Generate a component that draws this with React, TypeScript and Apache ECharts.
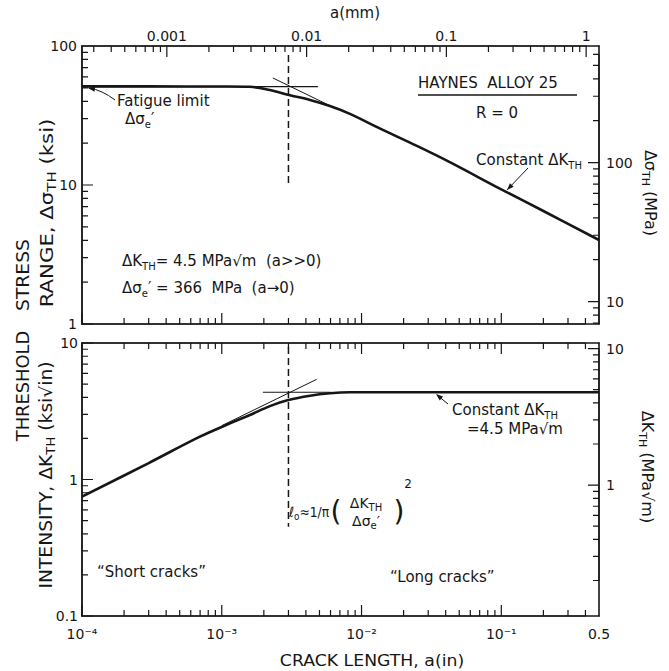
import React, { useEffect, useRef } from "react";
import * as echarts from "echarts";

const INK = "#161616";
const FONT = "DejaVu Sans";

// ---------- axis scales ----------
const CRACK_IN_RANGE = [1e-4, 0.5];
const CRACK_IN_TICKS = [1e-4, 1e-3, 1e-2, 1e-1, 0.5];
const CRACK_IN_LABELS = ["10⁻⁴", "10⁻³", "10⁻²", "10⁻¹", "0.5"];
const CRACK_IN_DECADES = [1e-4, 1e-3, 1e-2, 1e-1];
const CRACK_MM_TICKS = [0.001, 0.01, 0.1, 1];
const CRACK_MM_LABELS = ["0.001", "0.01", "0.1", "1"];
const MM_SCALE_SHIFT_DECADES = 0.393; // offset of the a(mm) scale against a(in), as drawn

const STRESS_KSI_RANGE = [1, 100];
const STRESS_KSI_TICKS = [1, 10, 100];
const STRESS_KSI_LABELS = ["1", "10", "100"];
const STRESS_MPA_TICKS = [10, 100];
const STRESS_MPA_LABELS = ["10", "100"];
const MPA_PER_KSI = 6.895;

const K_KSI_RANGE = [0.1, 10];
const K_KSI_TICKS = [0.1, 1, 10];
const K_KSI_LABELS = ["0.1", "1", "10"];
const K_MPA_TICKS = [1, 10];
const K_MPA_LABELS = ["1", "10"];
const MPA_M_PER_KSI_IN = 1.0988;

// ---------- top panel: threshold stress range ----------
const stressCrackIn = [1e-4, 3e-4, 1e-3, 1.59e-3, 2.21e-3, 3.03e-3, 4.28e-3, 5.94e-3, 8.26e-3, 1.42e-2, 2.49e-2, 4.28e-2, 0.1, 0.2, 0.5];
const stressKsi = [51.2, 51.2, 51.1, 50.9, 48.2, 44.4, 40.9, 37.0, 32.5, 24.9, 19.1, 14.6, 9.3, 6.5, 4.02];
const fatigueLimitIn = [1e-4, 4.87e-3];
const fatigueLimitKsi = [51.0, 51.0];
const stressTangentIn = [2.32e-3, 6.5e-3];
const stressTangentKsi = [58.9, 35.6];

// ---------- bottom panel: threshold stress intensity ----------
const intensityCrackIn = [1e-4, 3e-4, 6.98e-4, 1.146e-3, 1.59e-3, 2.21e-3, 2.99e-3, 4.28e-3, 5.94e-3, 8.26e-3, 2e-2, 0.1, 0.5];
const intensityKsi = [0.748, 1.32, 2.06, 2.58, 2.97, 3.45, 3.82, 4.11, 4.28, 4.355, 4.36, 4.36, 4.36];
const intensityFlatIn = [1.97e-3, 6e-3];
const intensityFlatKsi = [4.36, 4.36];
const intensityTangentIn = [1e-3, 4.78e-3];
const intensityTangentKsi = [2.48, 5.42];

// ---------- transition crack length l0 (dashed) ----------
const L0_IN = 3.0e-3;
const l0StressKsi = [86, 10];
const l0IntensityKsi = [9.35, 0.45];

// ---------- layout ----------
const GRID_LEFT = 82;
const GRID_WIDTH = 517;
const TOP_GRID = { top: 46, height: 278 };
const BOT_GRID = { top: 343, height: 273 };
const MAJOR_TICK_PX = 11;
const MINOR_TICK_PX = 6;

const lg = (v: number) => Math.log(v) / Math.LN10;
const pairs = (xs: number[], ys: number[]) => xs.map((x, i) => [lg(x), lg(ys[i])]);

function minorLogs(lo: number, hi: number): number[] {
  const out: number[] = [];
  const e0 = Math.floor(lg(lo)) - 1;
  const e1 = Math.ceil(lg(hi));
  for (let e = e0; e <= e1; e++) {
    for (let k = 2; k <= 9; k++) {
      const v = k * Math.pow(10, e);
      if (v > lo * 1.0001 && v < hi * 0.9999) out.push(lg(v));
    }
  }
  return out;
}

function labeler(vals: number[], labels: string[]) {
  return (v: number) => {
    for (let i = 0; i < vals.length; i++) if (Math.abs(lg(vals[i]) - v) < 1e-4) return labels[i];
    return "";
  };
}

type AxisSpec = {
  grid: number;
  position: string;
  lo: number;
  hi: number;
  major: number[];
  labels?: string[];
  margin?: number;
};

function axisDef(p: AxisSpec) {
  const majorVals = p.major.map((v) => lg(v));
  return {
    type: "value",
    gridIndex: p.grid,
    position: p.position,
    min: lg(p.lo),
    max: lg(p.hi),
    splitLine: { show: false },
    splitArea: { show: false },
    axisPointer: { show: false },
    silent: true,
    axisLine: { show: true, onZero: false, lineStyle: { color: INK, width: 1.6 } },
    axisTick: { show: false },
    axisLabel: p.labels
      ? {
          show: true,
          customValues: majorVals,
          formatter: labeler(p.major, p.labels),
          margin: p.margin ?? 6,
          color: INK,
          fontSize: 14,
          fontFamily: FONT,
          showMinLabel: true,
          showMaxLabel: true,
        }
      : { show: false },
  };
}

function rich(size: number) {
  const sub = Math.round(size * 0.68);
  return {
    m: { fontSize: size, fontFamily: FONT, fill: INK, lineHeight: size + 5 },
    s: { fontSize: sub, fontFamily: FONT, fill: INK, lineHeight: sub, verticalAlign: "bottom" },
    p: { fontSize: sub, fontFamily: FONT, fill: INK, lineHeight: sub, verticalAlign: "top" },
  };
}

function txt(x: number, y: number, text: string, size: number, o: any = {}) {
  return {
    type: "text",
    x,
    y,
    rotation: o.rot || 0,
    scaleX: o.sx || 1,
    silent: true,
    z: 10,
    style: {
      text,
      rich: rich(size),
      font: `${size}px "${FONT}"`,
      fill: INK,
      align: o.align || "left",
      verticalAlign: "middle",
    },
  };
}

function seg(x1: number, y1: number, x2: number, y2: number, w = 1.2) {
  return { type: "line", silent: true, z: 10, shape: { x1, y1, x2, y2 }, style: { stroke: INK, lineWidth: w } };
}

function head(tipX: number, tipY: number, fromX: number, fromY: number) {
  const dx = tipX - fromX;
  const dy = tipY - fromY;
  const len = Math.hypot(dx, dy);
  const ux = dx / len;
  const uy = dy / len;
  const bx = tipX - ux * 7;
  const by = tipY - uy * 7;
  return {
    type: "polygon",
    silent: true,
    z: 10,
    shape: { points: [[tipX, tipY], [bx - uy * 2.6, by + ux * 2.6], [bx + uy * 2.6, by - ux * 2.6]] },
    style: { fill: INK },
  };
}

const inLo = CRACK_IN_RANGE[0];
const inHi = CRACK_IN_RANGE[1];
const mmShift = Math.pow(10, MM_SCALE_SHIFT_DECADES);
const xExt = [lg(inLo), lg(inHi)];
const yTop = [lg(STRESS_KSI_RANGE[0]), lg(STRESS_KSI_RANGE[1])];
const yBot = [lg(K_KSI_RANGE[0]), lg(K_KSI_RANGE[1])];

type TickSpec = { xi: number; yi: number; side: string; yExt: number[]; box: { top: number; height: number }; majors: number[]; minors: number[] };

function tickSpecs(): TickSpec[] {
  const lgMm = MM_SCALE_SHIFT_DECADES;
  const lgMpa = lg(MPA_PER_KSI);
  const lgMpaM = lg(MPA_M_PER_KSI_IN);
  const inDecades = CRACK_IN_DECADES.map((v) => lg(v));
  const inMinors = minorLogs(inLo, inHi);
  return [
    { xi: 0, yi: 0, side: "bottom", yExt: yTop, box: TOP_GRID, majors: inDecades, minors: inMinors },
    { xi: 0, yi: 0, side: "top", yExt: yTop, box: TOP_GRID, majors: CRACK_MM_TICKS.map((v) => lg(v) - lgMm), minors: minorLogs(inLo * mmShift, inHi * mmShift).map((v) => v - lgMm) },
    { xi: 0, yi: 0, side: "left", yExt: yTop, box: TOP_GRID, majors: STRESS_KSI_TICKS.map((v) => lg(v)), minors: minorLogs(STRESS_KSI_RANGE[0], STRESS_KSI_RANGE[1]) },
    { xi: 0, yi: 0, side: "right", yExt: yTop, box: TOP_GRID, majors: STRESS_MPA_TICKS.map((v) => lg(v) - lgMpa), minors: minorLogs(STRESS_KSI_RANGE[0] * MPA_PER_KSI, STRESS_KSI_RANGE[1] * MPA_PER_KSI).map((v) => v - lgMpa) },
    { xi: 2, yi: 2, side: "bottom", yExt: yBot, box: BOT_GRID, majors: inDecades, minors: inMinors },
    { xi: 2, yi: 2, side: "top", yExt: yBot, box: BOT_GRID, majors: inDecades, minors: inMinors },
    { xi: 2, yi: 2, side: "left", yExt: yBot, box: BOT_GRID, majors: K_KSI_TICKS.map((v) => lg(v)), minors: minorLogs(K_KSI_RANGE[0], K_KSI_RANGE[1]) },
    { xi: 2, yi: 2, side: "right", yExt: yBot, box: BOT_GRID, majors: K_MPA_TICKS.map((v) => lg(v) - lgMpaM), minors: minorLogs(K_KSI_RANGE[0] * MPA_M_PER_KSI_IN, K_KSI_RANGE[1] * MPA_M_PER_KSI_IN).map((v) => v - lgMpaM) },
  ];
}

// Inward tick marks: one comb-shaped polyline per frame side, running along the axis line and out to
// each tick; pixel positions come from the chart's axes, with the grid's linear map as a fallback.
function tickGraphics(chart: any): any[] {
  const out: any[] = [];
  const specs = tickSpecs();
  for (let si = 0; si < specs.length; si++) {
    const t = specs[si];
    const toPx = (xv: number, yv: number): number[] => {
      let r: any = null;
      try {
        r = chart ? chart.convertToPixel({ xAxisIndex: t.xi, yAxisIndex: t.yi }, [xv, yv]) : null;
      } catch (e) {
        r = null;
      }
      if (r && r.length === 2 && isFinite(r[0]) && isFinite(r[1])) return [Number(r[0]), Number(r[1])];
      const px = GRID_LEFT + ((xv - xExt[0]) / (xExt[1] - xExt[0])) * GRID_WIDTH;
      const py = t.box.top + t.box.height - ((yv - t.yExt[0]) / (t.yExt[1] - t.yExt[0])) * t.box.height;
      return [px, py];
    };
    const items = [
      ...t.majors.map((v) => ({ v, len: MAJOR_TICK_PX })),
      ...t.minors.map((v) => ({ v, len: MINOR_TICK_PX })),
    ].sort((a, b) => a.v - b.v);
    const pts: number[][] = [];
    for (const it of items) {
      let p: number[];
      let q: number[];
      if (t.side === "bottom") {
        p = toPx(it.v, t.yExt[0]);
        q = [p[0], p[1] - it.len];
      } else if (t.side === "top") {
        p = toPx(it.v, t.yExt[1]);
        q = [p[0], p[1] + it.len];
      } else if (t.side === "left") {
        p = toPx(xExt[0], it.v);
        q = [p[0] + it.len, p[1]];
      } else {
        p = toPx(xExt[1], it.v);
        q = [p[0] - it.len, p[1]];
      }
      pts.push([p[0], p[1]], [q[0], q[1]], [p[0], p[1]]);
    }
    if (pts.length > 1) {
      out.push({
        type: "polyline",
        silent: true,
        z: 12,
        shape: { points: pts },
        style: { stroke: INK, lineWidth: 1.2, fill: null, lineJoin: "miter" },
      });
    }
  }
  return out;
}

function annotationGraphics(): any[] {
  const R = Math.PI / 2;
  return [
    // axis titles
    txt(23, 386, "{m|THRESHOLD}", 17, { rot: R, align: "center", sx: 1.05 }),
    txt(23, 275, "{m|STRESS}", 17, { rot: R, align: "center", sx: 1.1 }),
    txt(47, 213, "{m|RANGE, Δσ}{s|TH}{m| (ksi)}", 17, { rot: R, align: "center", sx: 1.25 }),
    txt(46, 475, "{m|INTENSITY, ΔK}{s|TH}{m| (ksi√in)}", 17, { rot: R, align: "center", sx: 1.1 }),
    txt(650, 193, "{m|Δσ}{s|TH}{m| (MPa)}", 16, { rot: -R, align: "center" }),
    txt(647, 467, "{m|ΔK}{s|TH}{m| (MPa√m)}", 16, { rot: -R, align: "center" }),
    txt(355, 13, "{m|a(mm)}", 15, { align: "center" }),
    txt(372, 661, "{m|CRACK LENGTH, a(in)}", 16, { align: "center", sx: 1.08 }),
    // top panel annotations
    txt(418, 83, "{m|HAYNES  ALLOY 25}", 15),
    seg(418, 95, 577, 95, 1.4),
    txt(497, 113, "{m|R = 0}", 15, { align: "center" }),
    txt(582, 160, "{m|Constant ΔK}{s|TH}", 15, { align: "right" }),
    seg(528, 168, 507, 190, 1.0),
    head(507, 190, 528, 168),
    txt(117, 101, "{m|Fatigue limit}", 15),
    txt(125, 119, "{m|Δσ}{s|e}{m|′}", 15),
    {
      type: "bezierCurve",
      silent: true,
      z: 10,
      shape: { x1: 115, y1: 100, x2: 89, y2: 88, cpx1: 102, cpy1: 90 },
      style: { stroke: INK, lineWidth: 1.0, fill: "none" },
    },
    head(88, 88, 100, 90),
    txt(122, 261, "{m|ΔK}{s|TH}{m|= 4.5 MPa√m  (a>>0)}", 15),
    txt(122, 288, "{m|Δσ}{s|e}{m|′ = 366  MPa  (a→0)}", 15),
    // bottom panel annotations
    txt(452, 410, "{m|Constant ΔK}{s|TH}", 15),
    txt(467, 429, "{m|=4.5 MPa√m}", 15),
    seg(448, 404, 437, 395, 1.0),
    head(436, 394, 448, 404),
    txt(97, 572, "{m|“Short cracks”}", 15),
    txt(390, 577, "{m|“Long cracks”}", 15),
    // l0 formula
    txt(289, 512, "{m|ℓ}{s|o}{m|≈1/π}", 14, { sx: 0.88 }),
    txt(336, 511, "{m|(}", 28, { align: "center" }),
    txt(366, 503, "{m|ΔK}{s|TH}", 14, { align: "center" }),
    txt(366, 521, "{m|Δσ}{s|e}{m|′}", 14, { align: "center" }),
    txt(399, 511, "{m|)}", 28, { align: "center" }),
    txt(408, 484, "{m|2}", 12, { align: "center" }),
  ];
}

function buildOption(): any {
  const xAxis = [
    axisDef({ grid: 0, position: "bottom", lo: inLo, hi: inHi, major: CRACK_IN_DECADES }),
    axisDef({ grid: 0, position: "top", lo: inLo * mmShift, hi: inHi * mmShift, major: CRACK_MM_TICKS, labels: CRACK_MM_LABELS, margin: 3 }),
    axisDef({ grid: 1, position: "bottom", lo: inLo, hi: inHi, major: CRACK_IN_TICKS, labels: CRACK_IN_LABELS, margin: 11 }),
    axisDef({ grid: 1, position: "top", lo: inLo, hi: inHi, major: CRACK_IN_DECADES }),
  ];
  const yAxis = [
    axisDef({ grid: 0, position: "left", lo: STRESS_KSI_RANGE[0], hi: STRESS_KSI_RANGE[1], major: STRESS_KSI_TICKS, labels: STRESS_KSI_LABELS, margin: 5 }),
    axisDef({ grid: 0, position: "right", lo: STRESS_KSI_RANGE[0] * MPA_PER_KSI, hi: STRESS_KSI_RANGE[1] * MPA_PER_KSI, major: STRESS_MPA_TICKS, labels: STRESS_MPA_LABELS, margin: 7 }),
    axisDef({ grid: 1, position: "left", lo: K_KSI_RANGE[0], hi: K_KSI_RANGE[1], major: K_KSI_TICKS, labels: K_KSI_LABELS, margin: 4 }),
    axisDef({ grid: 1, position: "right", lo: K_KSI_RANGE[0] * MPA_M_PER_KSI_IN, hi: K_KSI_RANGE[1] * MPA_M_PER_KSI_IN, major: K_MPA_TICKS, labels: K_MPA_LABELS, margin: 7 }),
  ];

  const line = (xi: number, yi: number, data: number[][], width: number, extra: any = {}) => ({
    type: "line",
    xAxisIndex: xi,
    yAxisIndex: yi,
    data,
    symbol: "none",
    silent: true,
    lineStyle: { color: INK, width, ...extra.lineStyle },
    smooth: extra.smooth ?? false,
    z: extra.z ?? 3,
  });

  const series = [
    line(0, 0, pairs(stressCrackIn, stressKsi), 2.6, { smooth: 0.35, z: 4 }),
    line(0, 0, pairs(fatigueLimitIn, fatigueLimitKsi), 1.1),
    line(0, 0, pairs(stressTangentIn, stressTangentKsi), 1.0),
    line(0, 0, pairs([L0_IN, L0_IN], l0StressKsi), 1.5, { lineStyle: { type: [7, 4] } }),
    line(2, 2, pairs(intensityCrackIn, intensityKsi), 2.6, { smooth: 0.35, z: 4 }),
    line(2, 2, pairs(intensityFlatIn, intensityFlatKsi), 1.1),
    line(2, 2, pairs(intensityTangentIn, intensityTangentKsi), 1.0),
    line(2, 2, pairs([L0_IN, L0_IN], l0IntensityKsi), 1.5, { lineStyle: { type: [7, 4] } }),
  ];

  return {
    animation: false,
    backgroundColor: "#ffffff",
    textStyle: { fontFamily: FONT, color: INK },
    grid: [
      { left: GRID_LEFT, top: TOP_GRID.top, width: GRID_WIDTH, height: TOP_GRID.height, containLabel: false, outerBoundsMode: "none" },
      { left: GRID_LEFT, top: BOT_GRID.top, width: GRID_WIDTH, height: BOT_GRID.height, containLabel: false, outerBoundsMode: "none" },
    ],
    xAxis,
    yAxis,
    series,
  };
}

export default function App() {
  const ref = useRef<HTMLDivElement>(null);
  useEffect(() => {
    if (!ref.current) return;
    const chart = echarts.init(ref.current, undefined, { renderer: "svg" });
    chart.setOption(buildOption());
    let ticks: any[] = [];
    try {
      ticks = tickGraphics(chart);
    } catch (e) {
      ticks = tickGraphics(null);
    }
    chart.setOption({ graphic: { elements: [...ticks, ...annotationGraphics()] } });
    return () => chart.dispose();
  }, []);
  return (
    <div
      ref={ref}
      style={{ position: "fixed", left: 0, top: 0, width: 669, height: 671, background: "#ffffff" }}
    />
  );
}
